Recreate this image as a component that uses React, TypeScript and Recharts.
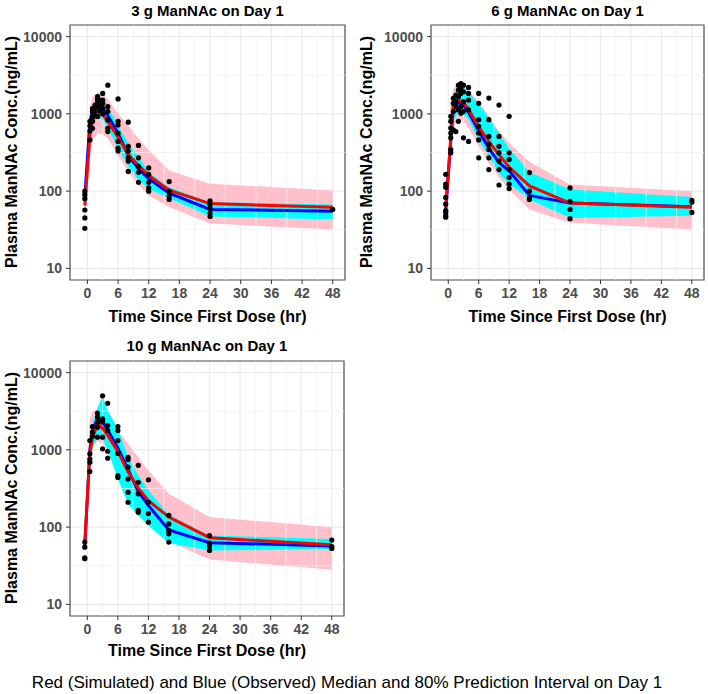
import React from 'react'
import {
  Area,
  CartesianGrid,
  ComposedChart,
  Line,
  ReferenceArea,
  ReferenceLine,
  Scatter,
  XAxis,
  YAxis
} from 'recharts'

// nominal sampling times (hr), shared by the medians and the intervals
const TIMES = [-0.5, 0.5, 1, 2, 3, 4, 6, 8, 10, 12, 16, 24, 48]
const X_TICKS = [0, 6, 12, 18, 24, 30, 36, 42, 48]
const X_MINOR = [3, 9, 15, 21, 27, 33, 39, 45]
const Y_TICKS = [10, 100, 1000, 10000]
const Y_MINOR = [31.6, 316, 3162]
const X_DOMAIN: [number, number] = [-3.4, 50.4]
const Y_DOMAIN: [number, number] = [7.08, 14125]

// 3 g
const SIM_MED_3 = [65, 550, 830, 1020, 980, 800, 500, 300, 215, 160, 103, 69, 62]
const SIM_LO_3 = [50, 250, 450, 560, 540, 480, 290, 180, 120, 88, 62, 38, 32]
const SIM_HI_3 = [95, 1200, 1650, 1900, 1800, 1550, 1000, 700, 480, 340, 185, 125, 102]
const OBS_MED_3 = [85, 800, 1100, 1300, 1150, 950, 560, 290, 195, 145, 94, 58, 55]
const OBS_LO_3 = [42, 450, 700, 900, 850, 650, 360, 210, 140, 107, 81, 47, 43]
const OBS_HI_3 = [98, 900, 1250, 1600, 1500, 1250, 700, 420, 280, 175, 112, 72, 67]
const DOTS_3: [number, number][] = [
  [-0.5, 100], [-0.5, 90], [-0.5, 80], [-0.5, 57], [-0.5, 45], [-0.5, 33],
  [0.5, 800], [0.5, 600], [0.5, 460], [0.5, 700],
  [1, 1180], [1, 1070], [1, 920], [1, 800], [1, 650],
  [1.5, 1300], [1.5, 1100], [1.5, 950],
  [2, 1670], [2, 1550], [2, 1440], [2, 1240], [2, 925],
  [2.5, 1500], [2.5, 1300], [2.5, 1100],
  [3, 1840], [3, 1510], [3, 1370], [3, 1180], [3, 1000],
  [4, 2350], [4, 1240], [4, 1070], [4, 835], [4, 650], [4, 590],
  [6, 1560], [6, 800], [6, 720], [6, 565], [6, 440], [6, 360], [6, 330],
  [8, 780], [8, 380], [8, 330], [8, 270], [8, 245], [8, 180],
  [10, 390], [10, 270], [10, 210], [10, 175], [10, 130],
  [12, 200], [12, 165], [12, 130], [12, 110], [12, 100],
  [16, 133], [16, 100], [16, 86], [16, 78],
  [24, 75], [24, 67], [24, 60], [24, 52], [24, 47],
  [48, 58]
]

// 6 g
const SIM_MED_6 = [62, 470, 1350, 1500, 1400, 1150, 680, 440, 295, 205, 117, 70, 62]
const SIM_LO_6 = [40, 300, 700, 850, 800, 650, 380, 230, 150, 105, 58, 39, 32]
const SIM_HI_6 = [75, 1500, 2100, 2400, 2300, 2000, 1450, 950, 600, 420, 240, 122, 100]
const OBS_MED_6 = [55, 450, 1200, 1400, 1300, 1050, 600, 360, 233, 183, 88, 70, 63]
const OBS_LO_6 = [45, 350, 800, 1100, 1000, 850, 460, 280, 170, 125, 78, 45, 48]
const OBS_HI_6 = [62, 900, 1600, 2200, 2200, 1900, 1350, 880, 560, 360, 175, 105, 84]
const DOTS_6: [number, number][] = [
  [-0.5, 165], [-0.5, 123], [-0.5, 112], [-0.5, 83], [-0.5, 68], [-0.5, 56], [-0.5, 53], [-0.5, 48], [-0.5, 46],
  [0.5, 930], [0.5, 800], [0.5, 655], [0.5, 565], [0.5, 490], [0.5, 345], [0.5, 313],
  [1, 1590], [1, 1370], [1, 1070], [1, 620],
  [1.5, 1750], [1.5, 1440], [1.5, 1240], [1.5, 590],
  [2, 2350], [2, 2030], [2, 1670], [2, 1125], [2, 800],
  [2.5, 2470], [2.5, 2130], [2.5, 1840], [2.5, 1240], [2.5, 1020],
  [3, 2350], [3, 1930], [3, 1440], [3, 1070], [3, 490],
  [4, 2200], [4, 1840], [4, 1510], [4, 1125], [4, 440],
  [6, 1840], [6, 1370], [6, 840], [6, 690], [6, 565], [6, 460], [6, 270],
  [8, 1600], [8, 840], [8, 510], [8, 400], [8, 345], [8, 270], [8, 190],
  [10, 1300], [10, 510], [10, 380], [10, 313], [10, 245], [10, 190], [10, 120],
  [12, 930], [12, 313], [12, 257], [12, 190], [12, 150], [12, 123], [12, 108],
  [16, 174], [16, 100], [16, 82], [16, 78],
  [24, 110], [24, 74], [24, 58], [24, 44],
  [48, 76], [48, 72], [48, 53]
]

// 10 g
const SIM_MED_10 = [63, 900, 1400, 2200, 1900, 1550, 950, 520, 320, 220, 135, 73, 59]
const SIM_LO_10 = [40, 700, 1100, 1300, 1200, 1000, 600, 350, 220, 140, 65, 38, 28]
const SIM_HI_10 = [70, 2500, 3200, 3300, 3000, 2600, 1800, 1200, 800, 540, 270, 135, 100]
const OBS_MED_10 = [55, 1000, 1700, 2600, 2300, 1800, 1050, 560, 290, 190, 92, 63, 57]
const OBS_LO_10 = [50, 600, 1000, 1500, 1400, 1000, 420, 200, 140, 105, 62, 50, 52]
const OBS_HI_10 = [62, 1500, 2200, 3500, 5000, 3200, 1900, 800, 470, 300, 145, 78, 70]
const DOTS_10: [number, number][] = [
  [-0.5, 64], [-0.5, 55], [-0.5, 40], [-0.5, 39],
  [0.5, 1320], [0.5, 890], [0.5, 760], [0.5, 690], [0.5, 525],
  [1, 2000], [1, 1700], [1, 1500],
  [2, 3000], [2, 2650], [2, 2280], [2, 1960], [2, 1460],
  [3, 5000], [3, 2520], [3, 2300], [3, 1460], [3, 1030],
  [4, 4000], [4, 2060], [4, 1780], [4, 960], [4, 780],
  [6, 2000], [6, 1780], [6, 1320], [6, 900], [6, 465], [6, 440],
  [8, 800], [8, 750], [8, 600], [8, 420], [8, 283], [8, 210],
  [10, 630], [10, 380], [10, 270], [10, 165], [10, 156],
  [12, 410], [12, 210], [12, 150], [12, 116],
  [16, 142], [16, 110], [16, 91], [16, 82], [16, 64],
  [24, 78], [24, 62], [24, 57], [24, 50],
  [48, 68], [48, 56], [48, 53]
]

const FONT = '"Liberation Sans", Arial, Helvetica, sans-serif'

function Label({
  x,
  y,
  size,
  bold = true,
  rotate = false,
  color = '#000',
  children
}: {
  x: number
  y: number
  size: number
  bold?: boolean
  rotate?: boolean
  color?: string
  children: React.ReactNode
}) {
  return (
    <div
      style={{
        position: 'absolute',
        left: x,
        top: y,
        transform: `translate(-50%, -50%)${rotate ? ' rotate(-90deg)' : ''}`,
        fontSize: size,
        lineHeight: `${size}px`,
        fontWeight: bold ? 700 : 400,
        whiteSpace: 'nowrap',
        color,
        fontFamily: FONT
      }}
    >
      {children}
    </div>
  )
}

const Dot = (props: any) => <circle cx={props.cx} cy={props.cy} r={2.6} fill="#000" />

function Panel({
  left,
  top,
  yAxisWidth,
  rightMargin,
  simMed,
  simLo,
  simHi,
  obsMed,
  obsLo,
  obsHi,
  dots
}: {
  left: number
  top: number
  yAxisWidth: number
  rightMargin: number
  simMed: number[]
  simLo: number[]
  simHi: number[]
  obsMed: number[]
  obsLo: number[]
  obsHi: number[]
  dots: [number, number][]
}) {
  const rows = TIMES.map((t, i) => ({
    t,
    sim: [simLo[i], simHi[i]],
    obs: [obsLo[i], obsHi[i]],
    simMed: simMed[i],
    obsMed: obsMed[i]
  }))
  const points = dots.map(([t, c]) => ({ t, c }))
  const tickStyle = { fill: '#4d4d4d', fontSize: 14, fontWeight: 700, fontFamily: FONT }
  return (
    <div style={{ position: 'absolute', left, top }}>
      <ComposedChart
        width={354}
        height={330}
        data={rows}
        margin={{ top: 25, right: rightMargin, left: 0, bottom: 0 }}
      >
        <CartesianGrid stroke="#ebebeb" strokeWidth={1.2} />
        {X_MINOR.map((x) => (
          <ReferenceLine key={'vx' + x} x={x} stroke="#f0f0f0" strokeWidth={0.7} />
        ))}
        {Y_MINOR.map((y) => (
          <ReferenceLine key={'hy' + y} y={y} stroke="#f0f0f0" strokeWidth={0.7} />
        ))}
        <XAxis
          type="number"
          dataKey="t"
          domain={X_DOMAIN}
          ticks={X_TICKS}
          allowDataOverflow
          height={50}
          axisLine={false}
          tickSize={4}
          tickMargin={4}
          tickLine={{ stroke: '#333' }}
          tick={tickStyle}
        />
        <YAxis
          type="number"
          dataKey="c"
          scale="log"
          domain={Y_DOMAIN}
          ticks={Y_TICKS}
          allowDataOverflow
          width={yAxisWidth}
          axisLine={false}
          tickSize={4}
          tickMargin={4}
          tickLine={{ stroke: '#333' }}
          tick={tickStyle}
        />
        <Area
          type="linear"
          dataKey="sim"
          fill="#ffc0cb"
          fillOpacity={1}
          stroke="none"
          isAnimationActive={false}
        />
        <Area
          type="linear"
          dataKey="obs"
          fill="#00ffff"
          fillOpacity={1}
          stroke="none"
          isAnimationActive={false}
        />
        <Scatter data={points} dataKey="c" shape={Dot} isAnimationActive={false} />
        <Line
          type="linear"
          dataKey="obsMed"
          stroke="#0000ff"
          strokeWidth={3}
          dot={false}
          isAnimationActive={false}
        />
        <Line
          type="linear"
          dataKey="simMed"
          stroke="#ff0000"
          strokeWidth={3}
          dot={false}
          isAnimationActive={false}
        />
        <ReferenceArea
          x1={X_DOMAIN[0]}
          x2={X_DOMAIN[1]}
          y1={Y_DOMAIN[0]}
          y2={Y_DOMAIN[1]}
          fill="none"
          stroke="#555"
          strokeWidth={1.2}
          ifOverflow="visible"
        />
      </ComposedChart>
    </div>
  )
}

export default function App() {
  return (
    <div
      style={{
        position: 'absolute',
        left: 0,
        top: 0,
        width: 708,
        height: 694,
        background: '#fff',
        fontFamily: FONT
      }}
    >
      <Panel
        left={0}
        top={0}
        yAxisWidth={70}
        rightMargin={9}
        simMed={SIM_MED_3}
        simLo={SIM_LO_3}
        simHi={SIM_HI_3}
        obsMed={OBS_MED_3}
        obsLo={OBS_LO_3}
        obsHi={OBS_HI_3}
        dots={DOTS_3}
      />
      <Panel
        left={354}
        top={0}
        yAxisWidth={77}
        rightMargin={4}
        simMed={SIM_MED_6}
        simLo={SIM_LO_6}
        simHi={SIM_HI_6}
        obsMed={OBS_MED_6}
        obsLo={OBS_LO_6}
        obsHi={OBS_HI_6}
        dots={DOTS_6}
      />
      <Panel
        left={0}
        top={336}
        yAxisWidth={70}
        rightMargin={10}
        simMed={SIM_MED_10}
        simLo={SIM_LO_10}
        simHi={SIM_HI_10}
        obsMed={OBS_MED_10}
        obsLo={OBS_LO_10}
        obsHi={OBS_HI_10}
        dots={DOTS_10}
      />

      <Label x={207.5} y={10} size={15}>3 g ManNAc on Day 1</Label>
      <Label x={567.5} y={10} size={15}>6 g ManNAc on Day 1</Label>
      <Label x={207} y={345} size={15}>10 g ManNAc on Day 1</Label>

      <Label x={12} y={152} size={16} rotate>Plasma ManNAc Conc.(ng/mL)</Label>
      <Label x={367} y={152} size={16} rotate>Plasma ManNAc Conc.(ng/mL)</Label>
      <Label x={12} y={488} size={16} rotate>Plasma ManNAc Conc.(ng/mL)</Label>

      <Label x={207.5} y={317} size={16}>Time Since First Dose (hr)</Label>
      <Label x={567.5} y={317} size={16}>Time Since First Dose (hr)</Label>
      <Label x={207} y={651} size={16}>Time Since First Dose (hr)</Label>

      <Label x={347} y={682} size={17} bold={false}>
        Red (Simulated) and Blue (Observed) Median and 80% Prediction Interval on Day 1
      </Label>
    </div>
  )
}
